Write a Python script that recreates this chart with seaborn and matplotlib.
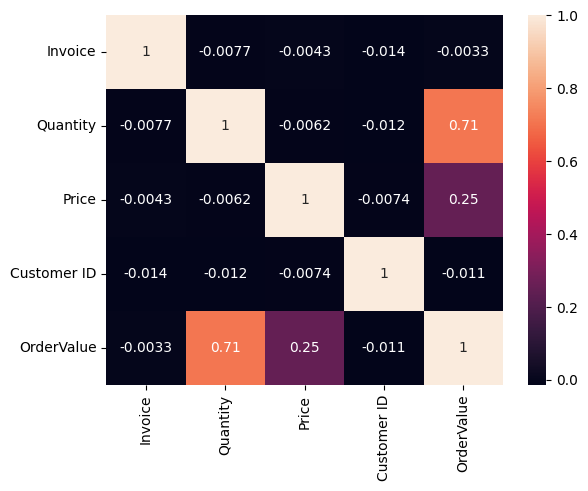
import matplotlib
matplotlib.use('Agg')
import matplotlib.pyplot as plt
import seaborn as sns
import numpy as np
import pandas as pd

columns = ['Invoice', 'Quantity', 'Price', 'Customer ID', 'OrderValue']
row_invoice = [1, -0.0077, -0.0043, -0.014, -0.0033]
row_quantity = [-0.0077, 1, -0.0062, -0.012, 0.71]
row_price = [-0.0043, -0.0062, 1, -0.0074, 0.25]
row_customer = [-0.014, -0.012, -0.0074, 1, -0.011]
row_ordervalue = [-0.0033, 0.71, 0.25, -0.011, 1]

corr = pd.DataFrame([row_invoice, row_quantity, row_price, row_customer, row_ordervalue],
                    index=columns, columns=columns)

plt.figure(figsize=(6.4, 4.8))
sns.heatmap(corr, annot=True)
plt.savefig('out.png', bbox_inches='tight')
